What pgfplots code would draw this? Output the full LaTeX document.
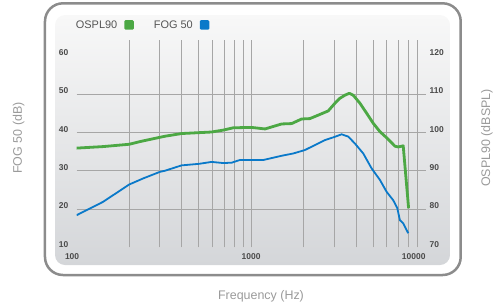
\documentclass[border=0pt]{standalone}
\usepackage{fontspec}
\setmainfont{Liberation Sans}
\usepackage{pgfplots}
\pgfplotsset{compat=1.18}
\definecolor{osplgreen}{HTML}{4CA844}
\definecolor{fogblue}{HTML}{0A79C9}
\definecolor{gridgray}{HTML}{A6A6A6}
\definecolor{ticktext}{HTML}{4A4A4A}
\definecolor{labeltext}{HTML}{9A9A9A}
\definecolor{legtext}{HTML}{555555}
\definecolor{framegray}{HTML}{8C8C8C}
\definecolor{paneltop}{HTML}{F8F8F8}
\definecolor{panelbot}{HTML}{D4D6D9}
\begin{document}
\begin{tikzpicture}[x=1bp,y=1bp]
\shade[top color=paneltop, bottom color=panelbot, rounded corners=10bp] (-21.6,-17.6) rectangle (373.4,232.4);
\draw[framegray, line width=2.5bp, rounded corners=18bp] (-31.6,-27.6) rectangle (384.1,244.1);

\begin{axis}[
  xmode=log, xmin=100, xmax=10000,
  at={(0,0)}, anchor=south west,
  scale only axis, width=348.9bp, height=207.4bp,
  axis line style={draw=none},
  major tick length=0pt, minor tick length=0pt,
  /pgf/number format/assume math mode=true,
  tick label style={font=\fontsize{8.5}{10}\selectfont\bfseries, text=ticktext},
  ymin=10, ymax=64.1,
  xtick={100,1000,10000},
  xticklabels={\makebox[0pt]{100\hspace{9bp}},1000,\makebox[0pt][r]{10000}},
  minor xtick={200,300,400,500,600,700,800,900,1000,2000,3000,4000,5000,6000,7000,8000,9000},
  xminorgrids=true, xmajorgrids=false,
  ytick={20,30,40,50},
  extra y ticks={10,60},
  extra y tick style={grid=none},
  ymajorgrids=true,
  grid style={gridgray, line width=0.9bp},
  minor grid style={gridgray, line width=0.9bp},
  yticklabel style={xshift=-4.8bp, yshift=3bp},
  xticklabel style={yshift=-2.8bp},
]
\addplot[fogblue, line width=1.8bp, line join=round] coordinates {
(100,18.4)(142,21.9)(200,26.4)(241,28.0)(300,29.7)(321,30.0)(400,31.4)(503,31.8)(594,32.3)(693,32.0)(774,32.1)(863,32.8)(1052,32.8)(1175,32.8)(1497,33.9)(1745,34.5)(2036,35.4)(2324,36.7)(2652,38.0)(2959,38.7)(3304,39.5)(3607,38.9)(3939,37.1)(4397,34.5)(4911,30.6)(5480,27.6)(5985,24.5)(6531,22.3)(6884,20.3)(7133,17.1)(7451,16.3)(7962,13.7)
};
\end{axis}

\begin{axis}[
  xmode=log, xmin=100, xmax=10000,
  at={(0,0)}, anchor=south west,
  scale only axis, width=348.9bp, height=207.4bp,
  axis line style={draw=none},
  major tick length=0pt, minor tick length=0pt,
  /pgf/number format/assume math mode=true,
  tick label style={font=\fontsize{8.5}{10}\selectfont\bfseries, text=ticktext},
  ymin=70, ymax=124.1,
  xtick=\empty,
  ytick={70,80,90,100,110,120},
  yticklabel pos=right,
  yticklabel style={xshift=0.7bp, yshift=3bp},
  legend columns=2,
  legend plot pos=right,
  legend cell align=left,
  legend image code/.code={\fill[#1, draw=none, rounded corners=1.2bp] (0bp,-4.5bp) rectangle (9.5bp,5bp);},
  legend style={at={(-0.0026,1.0723)}, anchor=west, draw=none, fill=none, inner sep=0pt,
    nodes={inner sep=0pt}, font=\fontsize{11}{13}\selectfont, text=legtext,
    /tikz/every odd column/.append style={column sep=7bp},
    /tikz/every even column/.append style={column sep=20bp}},
]
\addplot[osplgreen, line width=2.8bp, line join=round] coordinates {
(100,95.9)(142,96.3)(200,96.9)(236,97.7)(321,99.0)(400,99.7)(594,100.1)(693,100.6)(791,101.2)(1000,101.3)(1052,101.2)(1202,100.9)(1497,102.2)(1709,102.3)(1950,103.5)(2175,103.6)(2427,104.5)(2769,105.6)(3026,107.6)(3232,108.9)(3451,109.7)(3655,110.2)(3852,109.7)(4209,107.6)(4598,105.0)(5013,102.4)(5480,100.2)(5985,98.6)(6680,96.4)(6978,96.2)(7451,96.5)(8000,80.2)
};
\addlegendentry{OSPL90}
\addlegendimage{fogblue}
\addlegendentry{FOG 50}
\end{axis}

\node[rotate=90, font=\fontsize{12.5}{14}\selectfont, text=labeltext] at (-57.9,109.4) {FOG 50 (dB)};
\node[rotate=90, font=\fontsize{12.5}{14}\selectfont, text=labeltext] at (410.4,109.4) {OSPL90 (dBSPL)};
\node[font=\fontsize{12.5}{14}\selectfont, text=labeltext] at (184.4,-49.3) {Frequency (Hz)};

\pgfresetboundingbox
\path (-76.6,-58.6) rectangle (425.4,247.4);
\end{tikzpicture}
\end{document}
